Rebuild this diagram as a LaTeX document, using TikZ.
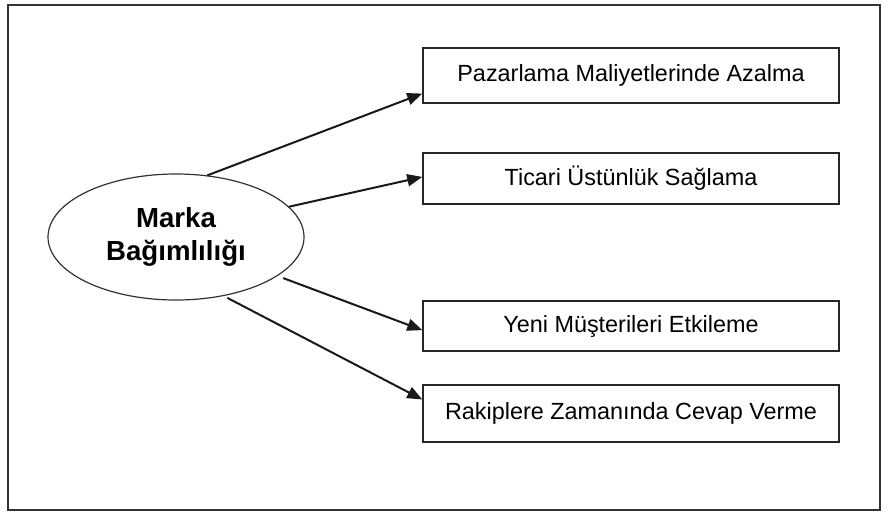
\documentclass[tikz,border=0pt]{standalone}
\usepackage{fontspec}
\setmainfont{Liberation Sans}
\usetikzlibrary{calc, shapes.geometric, arrows.meta}

\begin{document}
\begin{tikzpicture}[x=0.5pt,y=-0.5pt,
    effect/.style={draw=black!85,line width=0.75pt,minimum width=208pt,minimum height=26.5pt,inner sep=0pt,font=\fontsize{11.7}{14}\selectfont},
    link/.style={-{Triangle[length=7.5pt,width=6pt]},line width=1pt,black!90}]
    \useasboundingbox (0,0) rectangle (888,514);
    \draw[black!80,line width=1pt] (8,5) rectangle (880,510);
    \node[draw=black!80,line width=0.6pt,ellipse,minimum width=128pt,minimum height=63pt,inner sep=0pt,align=center,font=\fontsize{13.8}{16.5}\selectfont\bfseries] (brand) at (176,237) {Marka\\Bağımlılığı};
    \node[effect,minimum height=27.5pt] (cost) at (631,75.5) {Pazarlama Maliyetlerinde Azalma};
    \node[effect,minimum height=25.5pt] (trade) at (631,178.5) {Ticari Üstünlük Sağlama};
    \node[effect,minimum height=25pt] (customer) at (631,326) {Yeni Müşterileri Etkileme};
    \node[effect,minimum height=28.5pt] (rival) at (631,413.5) {Rakiplere Zamanında Cevap Verme};
    \draw[link] (brand.63) -- ($(cost.south west)!.18!(cost.north west)$);
    \draw[link] (brand.15) -- ($(trade.south west)!.53!(trade.north west)$);
    \draw[link,shorten <=3pt] (brand.-21) -- ($(customer.south west)!.42!(customer.north west)$);
    \draw[link,shorten <=2pt] (brand.-51) -- ($(rival.south west)!.74!(rival.north west)$);
\end{tikzpicture}
\end{document}
